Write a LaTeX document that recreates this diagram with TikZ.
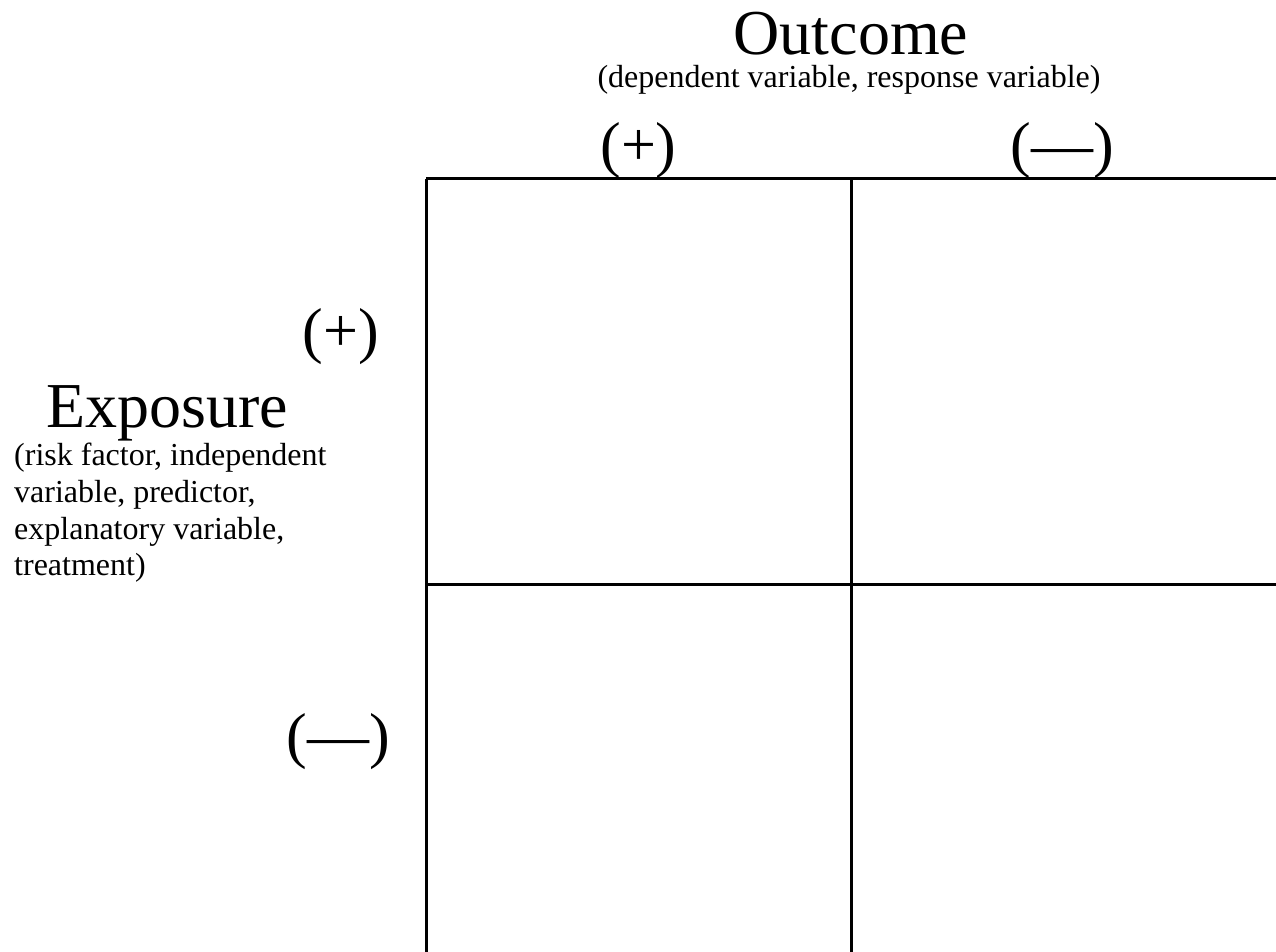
\documentclass[tikz,border=0pt]{standalone}
\usepackage{fontspec}
\setmainfont{Liberation Serif}
\tikzset{
  big/.style={font=\fontsize{62}{70}\selectfont, inner sep=0pt},
  title/.style={font=\fontsize{64}{72}\selectfont, inner sep=0pt},
  small/.style={font=\fontsize{32}{36.7}\selectfont, inner sep=0pt},
  gridline/.style={line width=3pt, black},
}
\begin{document}
\begin{tikzpicture}[x=1pt,y=-1pt]
\useasboundingbox (0,0) rectangle (1276,952);
% grid
\coordinate (tl) at (426,179);
\coordinate (tm) at (851,179);
\coordinate (tr) at (1277,179);
\coordinate (ml) at (426,584);
\coordinate (mr) at (1277,584);
\coordinate (bl) at (426,953);
\coordinate (bm) at (851,953);
\draw[gridline] (tl) -- (tr);
\draw[gridline] (ml) -- (mr);
\draw[gridline] (tl) -- (bl);
\draw[gridline] (tm) -- (bm);
% outcome labels
\node[title, anchor=base] (outcome) at (851,55) {Outcome};
\node[small, anchor=base] (outdesc) at (849,88) {(dependent variable, response variable)};
\node[big, anchor=base] (opos) at (638.5,166) {(+)};
\node[big, anchor=base] (oneg) at (1062,166) {(—)};
% exposure labels
\node[big, anchor=base] (epos) at (341,351) {(+)};
\node[big, anchor=base] (eneg) at (338,756) {(—)};
\node[title, anchor=base west] (exposure) at (46,427) {Exposure};
\node[small, anchor=north west, align=left] (expdesc) at (14,443)
  {(risk factor, independent\\variable, predictor,\\explanatory variable,\\treatment)};
\end{tikzpicture}
\end{document}
